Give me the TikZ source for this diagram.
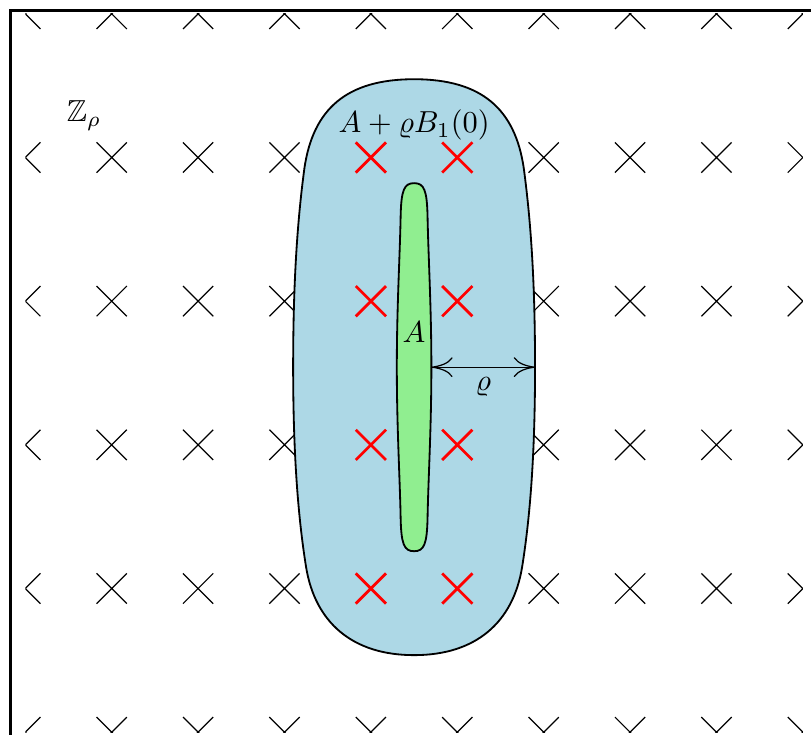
\documentclass[tikz,border=0pt]{standalone}
\usepackage{amsmath,amssymb}
\usetikzlibrary{arrows.meta}
\definecolor{hullblue}{HTML}{ADD8E6}
\definecolor{setgreen}{HTML}{90EE90}

\begin{document}
\begin{tikzpicture}[>={To[length=7pt,width=6.5pt]},
  latticecross/.style={line width=.4pt},
  redcross/.style={red,line width=.9pt},
  region/.style={draw=black,semithick}]
\useasboundingbox (-.293,.16) rectangle (9.094,-8.336);
\draw[line width=1pt] (-.177,.044) rectangle (9.5,-8.6);
% the lattice
\begin{scope}
\clip (0,0) rectangle (9,-8.316);
\foreach \i in {0,...,9}
  \foreach \j in {0,...,5}
    \draw[latticecross,shift={(\i,-1.663*\j)}] (-.175,-.175) -- (.175,.175) (-.175,.175) -- (.175,-.175);
\end{scope}
\node (Z) at (.68,-1.18) {$\mathbb{Z}_\rho$};
% the set and its neighbourhood
\begin{scope}[shift={(4.5,-4.09)}]
\filldraw[region,fill=hullblue] (0,3.333) .. controls (-.78,3.333) and (-1.17,2.99) .. (-1.27,2.3)
  .. controls (-1.35,1.7) and (-1.4,1.0) .. (-1.4,0)
  .. controls (-1.4,-1.007) and (-1.343,-1.736) .. (-1.25,-2.315)
  .. controls (-1.146,-2.951) and (-.718,-3.333) .. (0,-3.333)
  .. controls (.718,-3.333) and (1.146,-2.951) .. (1.25,-2.315)
  .. controls (1.343,-1.736) and (1.4,-1.007) .. (1.4,0)
  .. controls (1.4,1.0) and (1.35,1.7) .. (1.27,2.3)
  .. controls (1.17,2.99) and (.78,3.333) .. (0,3.333) -- cycle;
\filldraw[region,fill=setgreen] (0,2.13) .. controls (-.116,2.13) and (-.15,2.05) .. (-.156,1.736)
  .. controls (-.165,1.273) and (-.2,.694) .. (-.2,0)
  .. controls (-.2,-.694) and (-.165,-1.273) .. (-.156,-1.736)
  .. controls (-.15,-2.05) and (-.116,-2.13) .. (0,-2.13)
  .. controls (.116,-2.13) and (.15,-2.05) .. (.156,-1.736)
  .. controls (.165,-1.273) and (.2,-.694) .. (.2,0)
  .. controls (.2,.694) and (.165,1.273) .. (.156,1.736)
  .. controls (.15,2.05) and (.116,2.13) .. (0,2.13) -- cycle;
\end{scope}
\foreach \i in {4,5}
  \foreach \j in {1,...,4}
    \draw[redcross,shift={(\i,-1.663*\j)}] (-.175,-.175) -- (.175,.175) (-.175,.175) -- (.175,-.175);
\node (hull) at (4.5,-1.29) {$A+\varrho B_1(0)$};
\node (setA) at (4.5,-3.68) {$A$};
\coordinate (rhoL) at (4.7,-4.09);
\coordinate (rhoR) at (5.9,-4.09);
\draw[<->] (rhoL) -- node[below] (rho) {$\varrho$} (rhoR);
\end{tikzpicture}
\end{document}
